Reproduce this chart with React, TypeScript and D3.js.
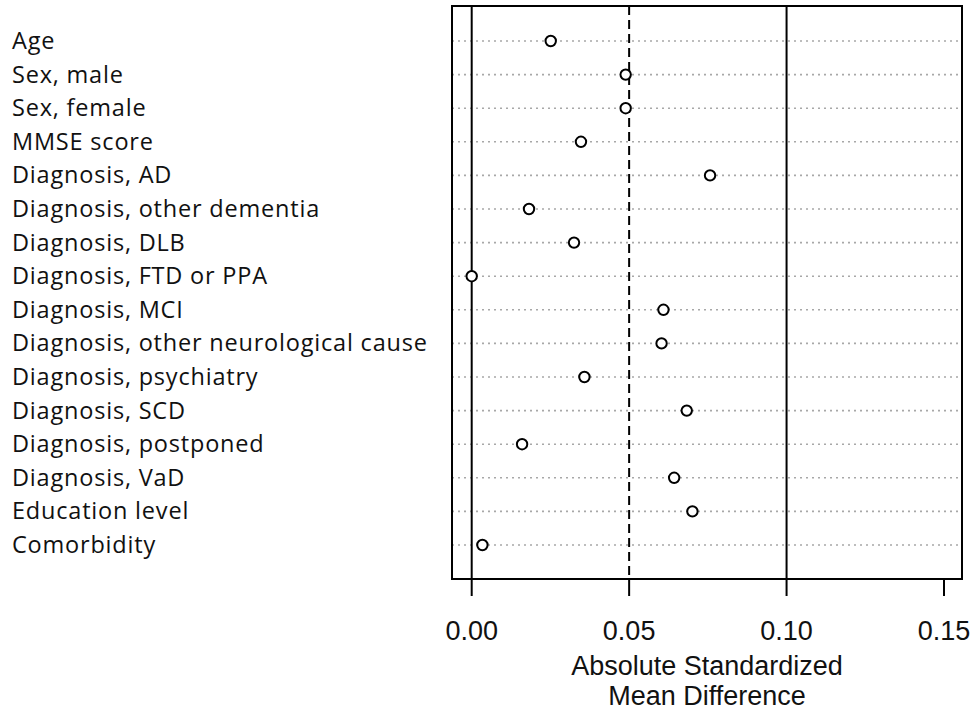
import React from 'react';
import * as d3 from 'd3';

const covariates = [
  'Age', 'Sex, male', 'Sex, female', 'MMSE score', 'Diagnosis, AD',
  'Diagnosis, other dementia', 'Diagnosis, DLB', 'Diagnosis, FTD or PPA',
  'Diagnosis, MCI', 'Diagnosis, other neurological cause', 'Diagnosis, psychiatry',
  'Diagnosis, SCD', 'Diagnosis, postponed', 'Diagnosis, VaD', 'Education level', 'Comorbidity',
];
const smdValues = [
  0.0251, 0.0489, 0.0489, 0.0347, 0.0757, 0.0182, 0.0325, 0.0,
  0.0609, 0.0603, 0.0358, 0.0683, 0.016, 0.0643, 0.0701, 0.0034,
];
const xTicks = [0, 0.05, 0.1, 0.15];
const solidRefs = [0, 0.1];
const dashedRef = 0.05;

const App = () => {
  const width = 971;
  const height = 712;
  const box = { left: 452, right: 962, top: 6, bottom: 579 };

  const x = d3.scaleLinear().domain([0, 0.15]).range([471.7, 944]);
  const y = d3.scalePoint<string>().domain(covariates).range([41, 545]);
  const fmt = d3.format('.2f');
  const cx = (box.left + box.right) / 2;

  return (
    <svg width={width} height={height} style={{ position: 'absolute', left: 0, top: 0, background: '#fff' }}>
      {/* row guides */}
      {covariates.map(c => (
        <line key={'g' + c} x1={box.left} x2={box.right} y1={y(c)} y2={y(c)}
          stroke="#a8a8a8" strokeWidth={1.6} strokeDasharray="2,4" />
      ))}
      {/* reference lines */}
      {solidRefs.map(v => (
        <line key={'r' + v} x1={x(v)} x2={x(v)} y1={box.top} y2={box.bottom} stroke="#000" strokeWidth={2} />
      ))}
      <line x1={x(dashedRef)} x2={x(dashedRef)} y1={box.top} y2={box.bottom}
        stroke="#000" strokeWidth={2} strokeDasharray="9,5" />
      {/* points */}
      {covariates.map((c, i) => (
        <circle key={'p' + c} cx={x(smdValues[i])} cy={y(c)} r={5.2}
          fill="#fff" stroke="#000" strokeWidth={2} />
      ))}
      {/* box */}
      <rect x={box.left} y={box.top} width={box.right - box.left} height={box.bottom - box.top}
        fill="none" stroke="#000" strokeWidth={2} />
      {/* x axis */}
      {xTicks.map(t => (
        <g key={'t' + t}>
          <line x1={x(t)} x2={x(t)} y1={box.bottom} y2={596} stroke="#000" strokeWidth={2} />
          <text x={x(t)} y={640} textAnchor="middle" fontFamily="'Liberation Sans', Arial, sans-serif"
            fontSize={27} fill="#111">{fmt(t)}</text>
        </g>
      ))}
      <text x={cx} textAnchor="middle" fontFamily="'Liberation Sans', Arial, sans-serif"
        fontSize={27} fill="#111">
        <tspan x={cx} y={675}>Absolute Standardized</tspan>
        <tspan x={cx} y={705}>Mean Difference</tspan>
      </text>
      {/* labels */}
      {covariates.map(c => (
        <text key={'l' + c} x={12} y={(y(c) ?? 0) + 8} fontFamily="'Open Sans', sans-serif"
          fontSize={23.5} letterSpacing={0.8} fill="#111">{c}</text>
      ))}
    </svg>
  );
};

export default App;
